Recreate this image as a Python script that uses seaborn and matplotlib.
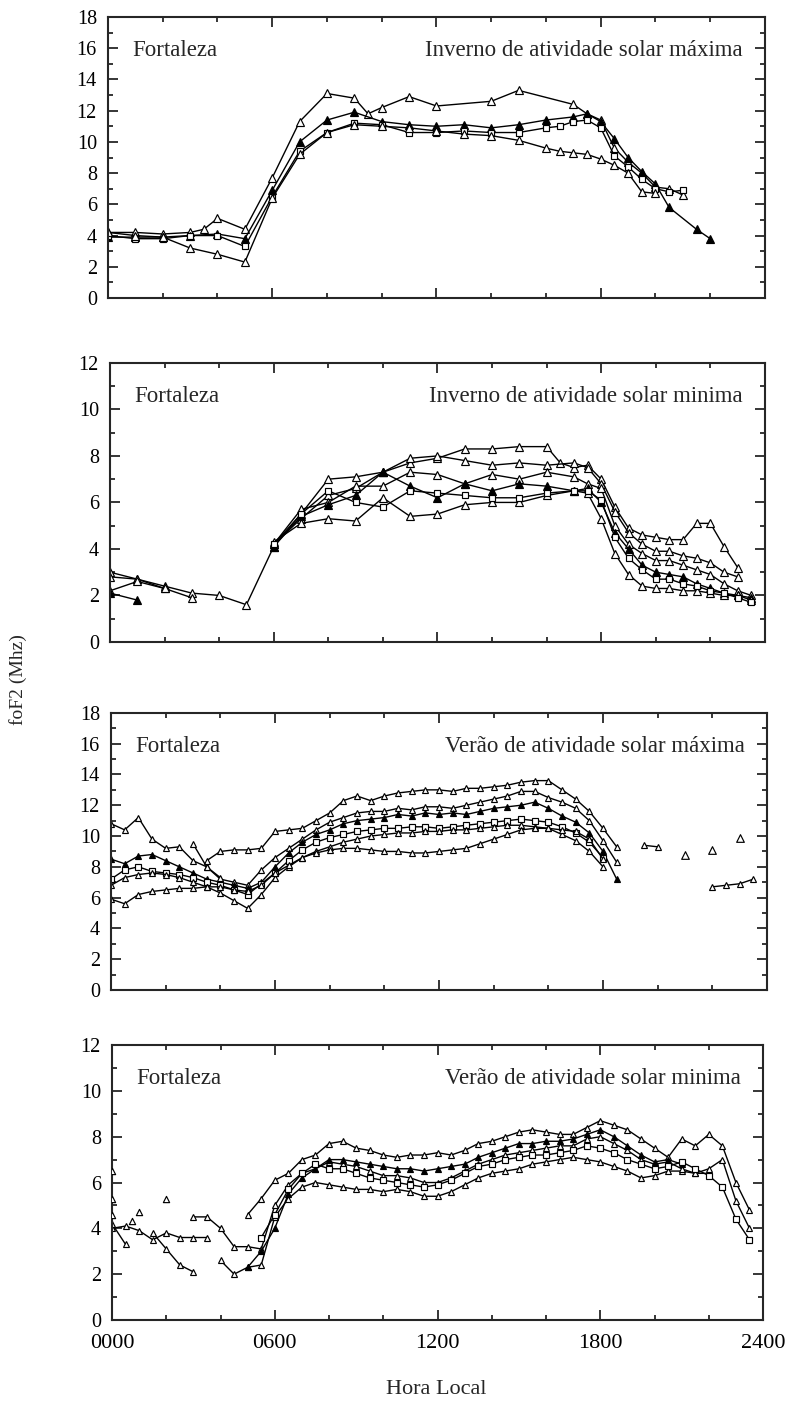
import numpy as np
import pandas as pd
import matplotlib
matplotlib.use("Agg")
import matplotlib.pyplot as plt
from matplotlib.ticker import MultipleLocator, FixedLocator
import seaborn as sns

nan = float("nan")

# Half-hourly local time grid, 0000 .. 2330
HORAS = np.arange(0, 24, 0.5)
ROTULOS_HORA = ["0000", "0600", "1200", "1800", "2400"]

# ---- Inverno, atividade solar máxima (foF2, MHz) ----
inv_max_a = [4.2, nan, 4.2, nan, 4.1, nan, 4.2, 4.4, 5.1, nan, 4.4, nan,
             7.7, nan, 11.3, nan, 13.1, nan, 12.8, 11.8, 12.2, nan, 12.9, nan,
             12.3, nan, nan, nan, 12.6, nan, 13.3, nan, nan, nan, 12.4, 11.8,
             11.4, 9.6, 8.7, 8.0, 7.1, 7.0, 6.6, nan, nan, nan, nan, nan]
inv_max_b = [3.9, nan, 3.9, nan, 3.9, nan, 4.0, nan, 4.1, nan, 3.8, nan,
             6.9, nan, 10.0, nan, 11.4, nan, 11.9, nan, 11.3, nan, 11.1, nan,
             11.0, nan, 11.1, nan, 10.9, nan, 11.1, nan, 11.4, nan, 11.6, 11.8,
             11.3, 10.2, 9.0, 8.1, 7.3, 5.8, nan, 4.4, 3.8, nan, nan, nan]
inv_max_c = [4.0, nan, 3.8, nan, 3.8, nan, 4.0, nan, 4.0, nan, 3.3, nan,
             6.5, nan, 9.4, nan, 10.6, nan, 11.2, nan, 11.1, nan, 10.6, nan,
             10.6, nan, 10.7, nan, 10.6, nan, 10.6, nan, 10.9, 11.0, 11.3, 11.4,
             10.9, 9.1, 8.4, 7.6, 7.0, 6.8, 6.9, nan, nan, nan, nan, nan]
inv_max_d = [4.2, nan, 4.0, nan, 3.9, nan, 3.2, nan, 2.8, nan, 2.3, nan,
             6.4, nan, 9.2, nan, 10.6, nan, 11.1, nan, 11.0, nan, 10.9, nan,
             10.7, nan, 10.5, nan, 10.4, nan, 10.1, nan, 9.6, 9.4, 9.3, 9.2,
             8.9, 8.5, 8.0, 6.8, 6.7, nan, nan, nan, nan, nan, nan, nan]

# ---- Inverno, atividade solar mínima ----
inv_min_a = [3.0, nan, 2.7, nan, 2.4, nan, 2.1, nan, 2.0, nan, 1.6, nan,
             4.1, nan, 5.5, nan, 7.0, nan, 7.1, nan, 7.3, nan, 7.7, nan,
             7.9, nan, 8.3, nan, 8.3, nan, 8.4, nan, 8.4, 7.7, 7.5, 7.6,
             7.0, 5.8, 4.9, 4.6, 4.5, 4.4, 4.4, 5.1, 5.1, 4.1, 3.2, nan]
inv_min_b = [nan] * 12 + [
             4.2, nan, 5.3, nan, 6.3, nan, 6.6, nan, 7.3, nan, 7.9, nan,
             8.0, nan, 7.8, nan, 7.6, nan, 7.7, nan, 7.6, nan, 7.7, 7.5,
             6.8, 5.6, 4.7, 4.2, 3.9, 3.9, 3.7, 3.6, 3.4, 3.0, 2.8, nan]
inv_min_c = [nan] * 12 + [
             4.2, nan, 5.7, nan, 6.0, nan, 6.7, nan, 6.7, nan, 7.3, nan,
             7.2, nan, 6.8, nan, 7.2, nan, 7.0, nan, 7.3, nan, 7.1, 6.8,
             6.6, 5.0, 4.2, 3.8, 3.5, 3.5, 3.3, 3.1, 2.9, 2.5, 2.2, 2.0]
inv_min_d = [nan] * 12 + [
             4.1, nan, 5.4, nan, 5.9, nan, 6.3, nan, 7.3, nan, 6.7, nan,
             6.2, nan, 6.8, nan, 6.5, nan, 6.8, nan, 6.7, nan, 6.5, 6.6,
             6.0, 4.7, 4.0, 3.3, 3.0, 2.9, 2.8, 2.5, 2.3, 2.1, 2.0, 1.9]
inv_min_e = [nan] * 12 + [
             4.3, nan, 5.1, nan, 5.3, nan, 5.2, nan, 6.2, nan, 5.4, nan,
             5.5, nan, 5.9, nan, 6.0, nan, 6.0, nan, 6.3, nan, 6.5, 6.4,
             5.3, 3.8, 2.9, 2.4, 2.3, 2.3, 2.2, 2.2, 2.1, 2.0, 2.0, 1.8]
inv_min_f = [nan] * 12 + [
             4.2, nan, 5.5, nan, 6.5, nan, 6.0, nan, 5.8, nan, 6.5, nan,
             6.4, nan, 6.3, nan, 6.2, nan, 6.2, nan, 6.4, nan, 6.5, 6.5,
             6.1, 4.5, 3.6, 3.1, 2.7, 2.7, 2.5, 2.4, 2.2, 2.1, 1.9, 1.7]
# short pre-dawn fragments
inv_min_g = [2.8, nan, 2.7, nan, 2.3, nan, 1.9] + [nan] * 41
inv_min_h = [2.2, nan, 2.6, nan, 2.3] + [nan] * 43
inv_min_i = [2.1, nan, 1.8] + [nan] * 45

# ---- Verão, atividade solar máxima ----
ver_max_a = [nan, nan, nan, nan, nan, nan, nan, 8.4, 9.0, 9.1, 9.1, 9.2,
             10.3, 10.4, 10.5, 11.0, 11.5, 12.3, 12.6, 12.3, 12.6, 12.8, 12.9, 13.0,
             13.0, 12.9, 13.1, 13.1, 13.2, 13.3, 13.5, 13.6, 13.6, 13.0, 12.4, 11.6,
             10.5, 9.3, nan, nan, nan, nan, nan, nan, nan, nan, nan, nan]
ver_max_b = [10.8, 10.4, 11.2, 9.8, 9.2, 9.3, 8.4, 8.0, 7.2, 7.0, 6.8, 7.8,
             8.6, 9.2, 9.8, 10.4, 10.9, 11.2, 11.5, 11.6, 11.6, 11.8, 11.7, 11.9,
             11.9, 11.8, 12.0, 12.2, 12.4, 12.6, 12.9, 12.9, 12.5, 12.2, 11.8, 11.0,
             9.7, 8.3, nan, nan, nan, nan, nan, nan, nan, nan, nan, nan]
ver_max_c = [8.5, 8.2, 8.7, 8.8, 8.4, 8.0, 7.6, 7.2, 7.0, 6.8, 6.6, 7.0,
             8.0, 8.9, 9.6, 10.1, 10.4, 10.8, 11.0, 11.1, 11.2, 11.4, 11.3, 11.5,
             11.4, 11.5, 11.4, 11.6, 11.8, 11.9, 12.0, 12.2, 11.8, 11.3, 10.9, 10.2,
             9.0, 7.2, nan, nan, nan, nan, nan, nan, nan, nan, nan, nan]
ver_max_d = [7.2, 7.8, 8.0, 7.7, 7.6, 7.5, 7.3, 7.0, 6.8, 6.5, 6.2, 6.9,
             7.6, 8.4, 9.1, 9.6, 9.9, 10.1, 10.3, 10.4, 10.5, 10.5, 10.6, 10.6,
             10.5, 10.6, 10.7, 10.8, 10.9, 11.0, 11.1, 11.0, 10.9, 10.6, 10.2, 9.6,
             8.6, nan, nan, nan, nan, nan, nan, nan, nan, nan, nan, nan]
ver_max_e = [6.8, 7.3, 7.5, 7.6, 7.5, 7.3, 7.0, 6.7, 6.3, 5.8, 5.3, 6.2,
             7.3, 8.0, 8.6, 9.0, 9.3, 9.6, 9.8, 10.0, 10.1, 10.2, 10.2, 10.3,
             10.3, 10.4, 10.4, 10.5, 10.6, 10.7, 10.7, 10.6, 10.5, 10.1, 9.7, 9.0,
             8.0, nan, nan, nan, nan, nan, nan, nan, nan, nan, nan, nan]
ver_max_f = [5.9, 5.6, 6.2, 6.4, 6.5, 6.6, 6.6, 6.7, 6.7, 6.5, 6.4, 6.8,
             7.6, 8.1, 8.6, 8.9, 9.1, 9.2, 9.2, 9.1, 9.0, 9.0, 8.9, 8.9,
             9.0, 9.1, 9.2, 9.5, 9.8, 10.1, 10.4, 10.5, 10.5, 10.4, 10.3, 9.8,
             8.5, nan, nan, nan, nan, nan, nan, nan, nan, nan, nan, nan]
ver_max_g = [nan, nan, nan, nan, nan, nan, 9.5, 8.0, 7.3] + [nan] * 39
ver_max_noite_a = [nan] * 36 + [nan, nan, nan, 9.4, 9.3, nan, nan, nan, nan, nan, nan, nan]
ver_max_noite_b = [nan] * 36 + [nan, nan, nan, nan, nan, nan, nan, nan, 6.7, 6.8, 6.9, 7.2]
ver_max_noite_isol = [nan] * 36 + [nan, nan, nan, nan, nan, nan, 8.8, nan, 9.1, nan, 9.9, nan]

# ---- Verão, atividade solar mínima ----
ver_min_a = [nan, nan, nan, nan, nan, nan, nan, nan, nan, nan, 4.6, 5.3,
             6.1, 6.4, 7.0, 7.2, 7.7, 7.8, 7.5, 7.4, 7.2, 7.1, 7.2, 7.2,
             7.3, 7.2, 7.4, 7.7, 7.8, 8.0, 8.2, 8.3, 8.2, 8.1, 8.1, 8.4,
             8.7, 8.5, 8.3, 7.9, 7.5, 7.1, 7.9, 7.6, 8.1, 7.6, 6.0, 4.8]
ver_min_b = [nan, nan, nan, nan, nan, nan, nan, nan, 2.6, 2.0, 2.3, 2.4,
             4.5, 5.3, 5.8, 6.0, 5.9, 5.8, 5.7, 5.7, 5.6, 5.7, 5.6, 5.4,
             5.4, 5.6, 5.9, 6.2, 6.4, 6.5, 6.6, 6.8, 6.9, 7.0, 7.1, 7.0,
             6.9, 6.7, 6.5, 6.2, 6.3, 6.5, 6.5, 6.4, 6.4, nan, nan, nan]
ver_min_b0 = [4.0, 4.1, 3.9, 3.5, 3.8, 3.6, 3.6, 3.6] + [nan] * 40
ver_min_c = [4.2, 3.3] + [nan] * 46
ver_min_d = [nan, nan, nan, 3.8, 3.1, 2.4, 2.1] + [nan] * 41
ver_min_e = [nan, nan, nan, nan, nan, nan, 4.5, 4.5, 4.0, 3.2, 3.2, 3.1,
             5.0, 5.9, 6.4, 6.6, 6.9, 6.8, 6.7, 6.5, 6.3, 6.3, 6.2, 6.0,
             6.0, 6.2, 6.5, 6.8, 7.0, 7.2, 7.3, 7.4, 7.5, 7.6, 7.6, 7.9,
             8.0, 7.7, 7.4, 7.0, 6.8, 6.9, 6.6, 6.4, 6.6, 7.0, 5.2, 4.0]
ver_min_f = [nan, nan, nan, nan, nan, nan, nan, nan, nan, nan, 2.3, 3.0,
             4.0, 5.5, 6.2, 6.6, 7.0, 7.0, 6.9, 6.8, 6.7, 6.6, 6.6, 6.5,
             6.6, 6.7, 6.8, 7.1, 7.3, 7.5, 7.7, 7.7, 7.8, 7.8, 7.9, 8.1,
             8.3, 8.0, 7.6, 7.2, 6.9, 7.0, 6.8, nan, nan, nan, nan, nan]
ver_min_g = [nan, nan, nan, nan, nan, nan, nan, nan, nan, nan, nan, 3.6,
             4.6, 5.7, 6.4, 6.8, 6.6, 6.6, 6.4, 6.2, 6.1, 6.0, 5.9, 5.8,
             5.9, 6.1, 6.4, 6.7, 6.8, 7.0, 7.1, 7.2, 7.2, 7.3, 7.4, 7.6,
             7.5, 7.3, 7.0, 6.8, 6.6, 6.7, 6.9, 6.6, 6.3, 5.8, 4.4, 3.5]
ver_min_madrugada_h = [0.0, 0.0, 0.0, 0.75, 1.0, 2.0]
ver_min_madrugada_v = [6.5, 5.3, 4.6, 4.3, 4.7, 5.3]

# ---------------------------------------------------------------------------
sns.set_style("ticks")
plt.rcParams["font.family"] = ["Liberation Serif", "DejaVu Serif"]
plt.rcParams["axes.linewidth"] = 1.5

fig = plt.figure(figsize=(7.9, 14.05), dpi=100)

paineis = [
    # (left, bottom, width, height) in figure fraction, ymax, title
    ([0.1367, 0.7879, 0.8316, 0.2000], 18, "Inverno de atividade solar máxima"),
    ([0.1392, 0.5431, 0.8291, 0.1986], 12, "Inverno de atividade solar minima"),
    ([0.1405, 0.2954, 0.8304, 0.1972], 18, "Verão de atividade solar máxima"),
    ([0.1418, 0.0605, 0.8241, 0.1957], 12, "Verão de atividade solar minima"),
]


def desenhar(ax, valores, horas=None, marcador="^", cheio=False, tam=6.0, com_linha=True):
    horas = HORAS if horas is None else horas
    df = pd.DataFrame({"hora": horas, "foF2": valores}).dropna()
    fc = "black" if cheio else "white"
    if com_linha:
        sns.lineplot(data=df, x="hora", y="foF2", ax=ax, color="black",
                     linewidth=1.0, marker=marcador, markersize=tam,
                     markerfacecolor=fc, markeredgecolor="black",
                     markeredgewidth=0.85, estimator=None, sort=True,
                     legend=False)
    else:
        sns.scatterplot(data=df, x="hora", y="foF2", ax=ax, marker=marcador,
                        s=tam ** 2, color=fc, edgecolor="black",
                        linewidth=0.85, legend=False, zorder=3)


eixos = []
for i, (pos, ymax, titulo) in enumerate(paineis):
    ax = fig.add_axes(pos)
    eixos.append(ax)
    ax.set_xlim(0, 24)
    ax.set_ylim(0, ymax)
    ax.xaxis.set_major_locator(FixedLocator([0, 6, 12, 18, 24]))
    ax.xaxis.set_minor_locator(MultipleLocator(2))
    ax.yaxis.set_major_locator(MultipleLocator(2))
    ax.yaxis.set_minor_locator(MultipleLocator(1))
    ax.tick_params(which="both", direction="in", top=True, right=True,
                   width=1.1, colors="black")
    ax.tick_params(which="major", length=7)
    ax.tick_params(which="minor", length=3.5)
    ax.tick_params(axis="y", labelsize=14.5, pad=8)
    if i == 3:
        ax.set_xticklabels(ROTULOS_HORA)
        ax.tick_params(axis="x", labelsize=16, pad=10)
    else:
        ax.tick_params(axis="x", labelbottom=False)
    ax.text(0.037, 0.88, "Fortaleza", transform=ax.transAxes, fontsize=16.5,
            ha="left", va="center")
    ax.text(0.966, 0.88, titulo, transform=ax.transAxes, fontsize=16.5,
            ha="right", va="center")

ax1, ax2, ax3, ax4 = eixos

# Inverno máxima
desenhar(ax1, inv_max_a)
desenhar(ax1, inv_max_b, cheio=True)
desenhar(ax1, inv_max_c, marcador="s", tam=5)
desenhar(ax1, inv_max_d)

# Inverno mínima
desenhar(ax2, inv_min_a)
desenhar(ax2, inv_min_b)
desenhar(ax2, inv_min_c)
desenhar(ax2, inv_min_d, cheio=True)
desenhar(ax2, inv_min_e)
desenhar(ax2, inv_min_f, marcador="s", tam=5)
desenhar(ax2, inv_min_g)
desenhar(ax2, inv_min_h)
desenhar(ax2, inv_min_i, cheio=True)

# Verão máxima
pq = 4.5
desenhar(ax3, ver_max_a, tam=pq)
desenhar(ax3, ver_max_b, tam=pq)
desenhar(ax3, ver_max_c, cheio=True, tam=pq)
desenhar(ax3, ver_max_d, marcador="s", tam=4)
desenhar(ax3, ver_max_e, tam=pq)
desenhar(ax3, ver_max_f, tam=pq)
desenhar(ax3, ver_max_g, tam=pq)
desenhar(ax3, ver_max_noite_a, tam=pq)
desenhar(ax3, ver_max_noite_b, tam=pq)
desenhar(ax3, ver_max_noite_isol, tam=pq + 1, com_linha=False)

# Verão mínima
desenhar(ax4, ver_min_a, tam=pq)
desenhar(ax4, ver_min_b, tam=pq)
desenhar(ax4, ver_min_b0, tam=pq)
desenhar(ax4, ver_min_c, tam=pq)
desenhar(ax4, ver_min_d, tam=pq)
desenhar(ax4, ver_min_e, tam=pq)
desenhar(ax4, ver_min_f, cheio=True, tam=pq)
desenhar(ax4, ver_min_g, marcador="s", tam=4)
desenhar(ax4, ver_min_madrugada_v, horas=ver_min_madrugada_h, tam=pq, com_linha=False)

for ax in eixos:
    ax.set_xlabel("")
    ax.set_ylabel("")

fig.text(18 / 790, 1 - 680 / 1405, "foF2 (Mhz)", rotation=90, fontsize=14,
         ha="center", va="center")
fig.text(436 / 790, 1 - 1390 / 1405, "Hora Local", fontsize=16,
         ha="center", va="center")

fig.savefig("out.png", dpi=100, facecolor="white")
